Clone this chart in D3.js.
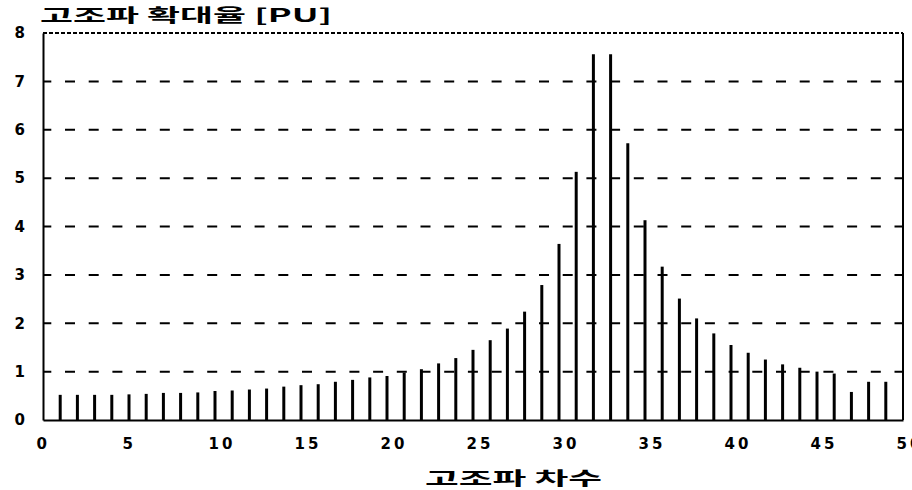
<!DOCTYPE html>
<html>
<head>
<meta charset="utf-8">
<script src="https://cdnjs.cloudflare.com/ajax/libs/d3/7.8.5/d3.min.js"></script>
<style>
  body { margin: 0; background: #fff; }
  svg { display: block; }
  .axis path { stroke: #000; stroke-width: 2px; }
  .axis text { font-family: "DejaVu Sans", sans-serif; font-weight: bold; font-size: 15px; fill: #000; }
  .grid line { stroke: #000; stroke-width: 2px; stroke-dasharray: 10, 13.7; stroke-dashoffset: 1.7; }
  .bar { stroke: #000; stroke-width: 3px; }
  .title { font-family: "Noto Sans CJK KR", sans-serif; font-weight: bold; font-size: 18px; fill: #000; }
</style>
</head>
<body>
<svg width="912" height="490"></svg>
<script>
// harmonic order (categories)
var orders = [1, 2, 3, 4, 5, 6, 7, 8, 9, 10,
  11, 12, 13, 14, 15, 16, 17, 18, 19, 20,
  21, 22, 23, 24, 25, 26, 27, 28, 29, 30,
  31, 32, 33, 34, 35, 36, 37, 38, 39, 40,
  41, 42, 43, 44, 45, 46, 47, 48, 49];

// harmonic amplification [PU]
var amplification = [0.52, 0.52, 0.52, 0.52, 0.53, 0.54, 0.56, 0.56, 0.57, 0.60,
  0.61, 0.63, 0.65, 0.69, 0.72, 0.74, 0.79, 0.83, 0.88, 0.91,
  0.98, 1.05, 1.17, 1.28, 1.45, 1.65, 1.89, 2.24, 2.79, 3.64,
  5.13, 7.56, 7.56, 5.72, 4.13, 3.17, 2.51, 2.10, 1.79, 1.55,
  1.39, 1.25, 1.15, 1.08, 1.00, 0.96, 0.58, 0.79, 0.79];

var xTicks = [0, 5, 10, 15, 20, 25, 30, 35, 40, 45, 50];
var yTicks = [0, 1, 2, 3, 4, 5, 6, 7, 8];
var yGrid = [1, 2, 3, 4, 5, 6, 7];

var svg = d3.select("svg");

var margin = {top: 33, right: 9, bottom: 70, left: 43},
    width = +svg.attr("width") - margin.left - margin.right,
    height = +svg.attr("height") - margin.top - margin.bottom;

var g = svg.append("g")
    .attr("transform", "translate(" + margin.left + "," + margin.top + ")");

var x = d3.scaleLinear().domain([0, 50]).range([0, width]);
var y = d3.scaleLinear().domain([0, 8]).range([height, 0]);

// dashed grid lines
g.append("g")
    .attr("class", "grid")
  .selectAll("line")
    .data(yGrid)
  .enter().append("line")
    .attr("x1", 0)
    .attr("x2", width)
    .attr("y1", function(d) { return y(d); })
    .attr("y2", function(d) { return y(d); });

// top border (fine dashes) and right border
g.append("line")
    .attr("x1", 0).attr("x2", width)
    .attr("y1", y(8)).attr("y2", y(8))
    .attr("stroke", "#000").attr("stroke-width", 2)
    .attr("stroke-dasharray", "4,2");

g.append("line")
    .attr("x1", x(50)).attr("x2", x(50))
    .attr("y1", y(8)).attr("y2", y(0))
    .attr("stroke", "#000").attr("stroke-width", 2);

// bars
g.append("g").selectAll("line")
    .data(orders)
  .enter().append("line")
    .attr("class", "bar")
    .attr("x1", function(d) { return x(d); })
    .attr("x2", function(d) { return x(d); })
    .attr("y1", y(0))
    .attr("y2", function(d, i) { return y(amplification[i]); });

// axes
g.append("g")
    .attr("class", "axis axis--x")
    .attr("transform", "translate(0," + height + ")")
    .call(d3.axisBottom(x).tickValues(xTicks).tickSize(0).tickSizeOuter(0).tickPadding(18))
  .selectAll("text")
    .attr("text-anchor", "start")
    .attr("x", -7)
    .attr("letter-spacing", "3px");

g.append("g")
    .attr("class", "axis axis--y")
    .call(d3.axisLeft(y).tickValues(yTicks).tickSize(0).tickSizeOuter(0).tickPadding(18));

// titles
svg.append("text")
    .attr("class", "title")
    .attr("x", 40)
    .attr("y", 22)
    .attr("textLength", 292)
    .attr("lengthAdjust", "spacingAndGlyphs")
    .text("고조파 확대율 [PU]");

svg.append("text")
    .attr("class", "title")
    .attr("x", 425)
    .attr("y", 485)
    .attr("textLength", 177)
    .attr("lengthAdjust", "spacingAndGlyphs")
    .text("고조파 차수");
</script>
</body>
</html>
